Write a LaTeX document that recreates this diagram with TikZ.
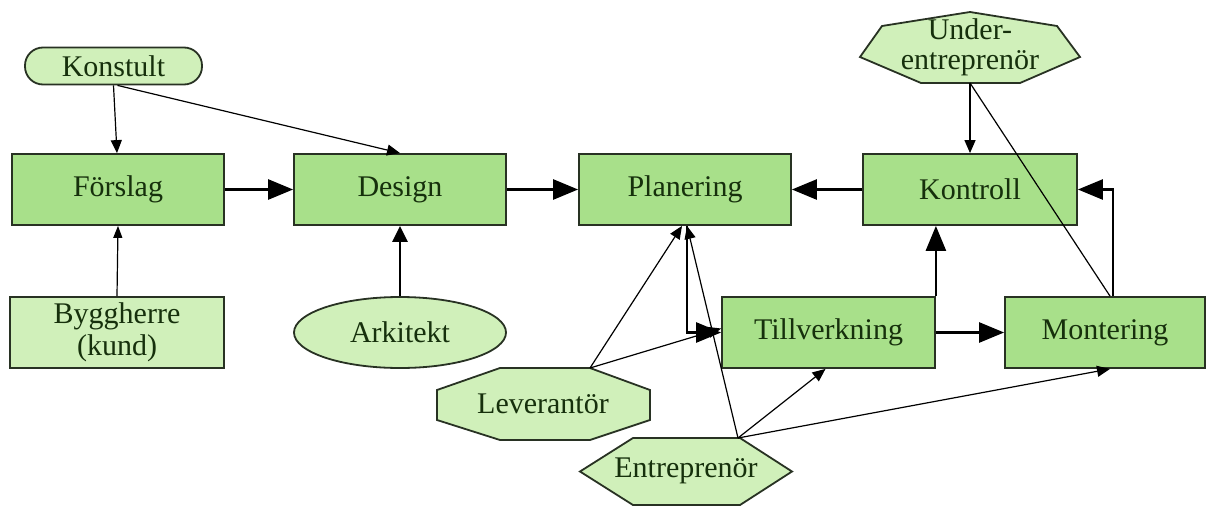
\documentclass[tikz,border=0pt]{standalone}
\usepackage{fontspec}
\setmainfont{Liberation Serif}
\usetikzlibrary{arrows.meta,shapes.geometric}
\definecolor{boxgreen}{RGB}{168,224,138}
\definecolor{lightgreen}{RGB}{208,240,186}
\definecolor{edgegray}{RGB}{40,50,35}
\definecolor{txtgreen}{RGB}{22,48,12}
\tikzset{
  lbl/.style={font=\fontsize{30}{34}\selectfont, text=txtgreen, align=center, inner sep=0pt},
  mainbox/.style={lbl, draw=edgegray, line width=1.8pt, fill=boxgreen, rectangle,
    minimum width=212pt, minimum height=71pt},
  lightbox/.style={lbl, draw=edgegray, line width=1.8pt, fill=lightgreen, rectangle,
    minimum width=214pt, minimum height=71pt},
  outline/.style={draw=edgegray, line width=1.8pt, fill=lightgreen},
  thick flow/.style={draw=black, line width=2.6pt, -{Triangle[length=25pt,width=20pt]}},
  thin flow/.style={draw=black, line width=1.2pt, -{Triangle[length=13pt,width=11pt]}},
  thin line/.style={draw=black, line width=1.2pt},
}
\begin{document}
\begin{tikzpicture}[x=1pt,y=-1pt]
\useasboundingbox (0,0) rectangle (1215,506);
\fill[white] (0,0) rectangle (1215,506);

% process boxes
\node[mainbox] (forslag)  at (118,189.5) {Förslag};
\node[mainbox] (design)   at (400,189.5) {Design};
\node[mainbox] (plan)     at (685,189.5) {Planering};
\node[mainbox, minimum width=214pt] (kontroll) at (970,189.5) {Kontroll};
\node[mainbox, minimum width=213pt] (tillv)    at (828.5,332.5) {Tillverkning};
\node[mainbox, minimum width=200pt] (mont)     at (1105,332.5) {Montering};

% actors
\node[lbl, draw=edgegray, line width=1.8pt, fill=lightgreen, rounded corners=18pt,
      minimum width=177pt, minimum height=37pt] (konstult) at (113.5,66) {Konstult};
\node[lightbox] (bygg) at (117,332.5) {Byggherre\\[-2pt](kund)};
\node[lbl, draw=edgegray, line width=1.8pt, fill=lightgreen, ellipse,
      minimum width=212pt, minimum height=71pt] (arkitekt) at (400,332.5) {Arkitekt};

% Under-entreprenör: heptagon
\draw[outline] (970,12) -- (1057,26) -- (1080,57) -- (1020,83) -- (921,83) -- (860,57) -- (882,26) -- cycle;
\node[lbl] (underent) at (970,47) {Under-\\[-4pt]entreprenör};
\coordinate (underent-s) at (970,83);

% Leverantör: octagon
\draw[outline] (500,368) -- (590,368) -- (650,390) -- (650,420) -- (590,440) -- (500,440) -- (437,420) -- (437,390) -- cycle;
\node[lbl] (lev) at (543,404) {Leverantör};
\coordinate (lev-ne) at (590,368);

% Entreprenör: hexagon
\draw[outline] (633,438) -- (740,438) -- (792,471.5) -- (740,505) -- (633,505) -- (580,471.5) -- cycle;
\node[lbl] (entr) at (686,471) {Entreprenör};
\coordinate (entr-n) at (738,438);

% main flow
\draw[thick flow] (forslag.east) -- (design.west);
\draw[thick flow] (design.east) -- (plan.west);
\draw[thick flow] (kontroll.west) -- (plan.east);
\draw[thick flow] (tillv.east) -- (mont.west);
\draw[thick flow] (plan.south) ++(2,0) |- (tillv.west);
\draw[thick flow] (tillv.north east) -- (tillv.north east |- kontroll.south);
\draw[thick flow] ([xshift=8pt]mont.north) |- (kontroll.east);

% inputs
\draw[thin flow] (konstult.south) -- ([xshift=-1pt]forslag.north);
\draw[thin flow] ([xshift=4pt]konstult.south) -- (design.north);
\draw[thin flow, -{Triangle[length=12pt,width=9pt]}] (bygg.north) -- (forslag.south);
\draw[draw=black, line width=2.6pt, -{Triangle[length=16pt,width=15pt]}] (arkitekt.north) -- (design.south);
\draw[thin flow] (underent-s) -- (kontroll.north);
\draw[thin line] (underent-s) -- ([xshift=5pt]mont.north);
\draw[thin flow] (lev-ne) -- ([xshift=-3pt]plan.south);
\draw[thin flow] (lev-ne) -- ([yshift=4pt]tillv.west);
\draw[thin flow] (entr-n) -- ([xshift=2pt]plan.south);
\draw[thin flow] (entr-n) -- ([xshift=-3pt]tillv.south);
\draw[thin flow] (entr-n) -- ([xshift=5pt]mont.south);
\end{tikzpicture}
\end{document}
